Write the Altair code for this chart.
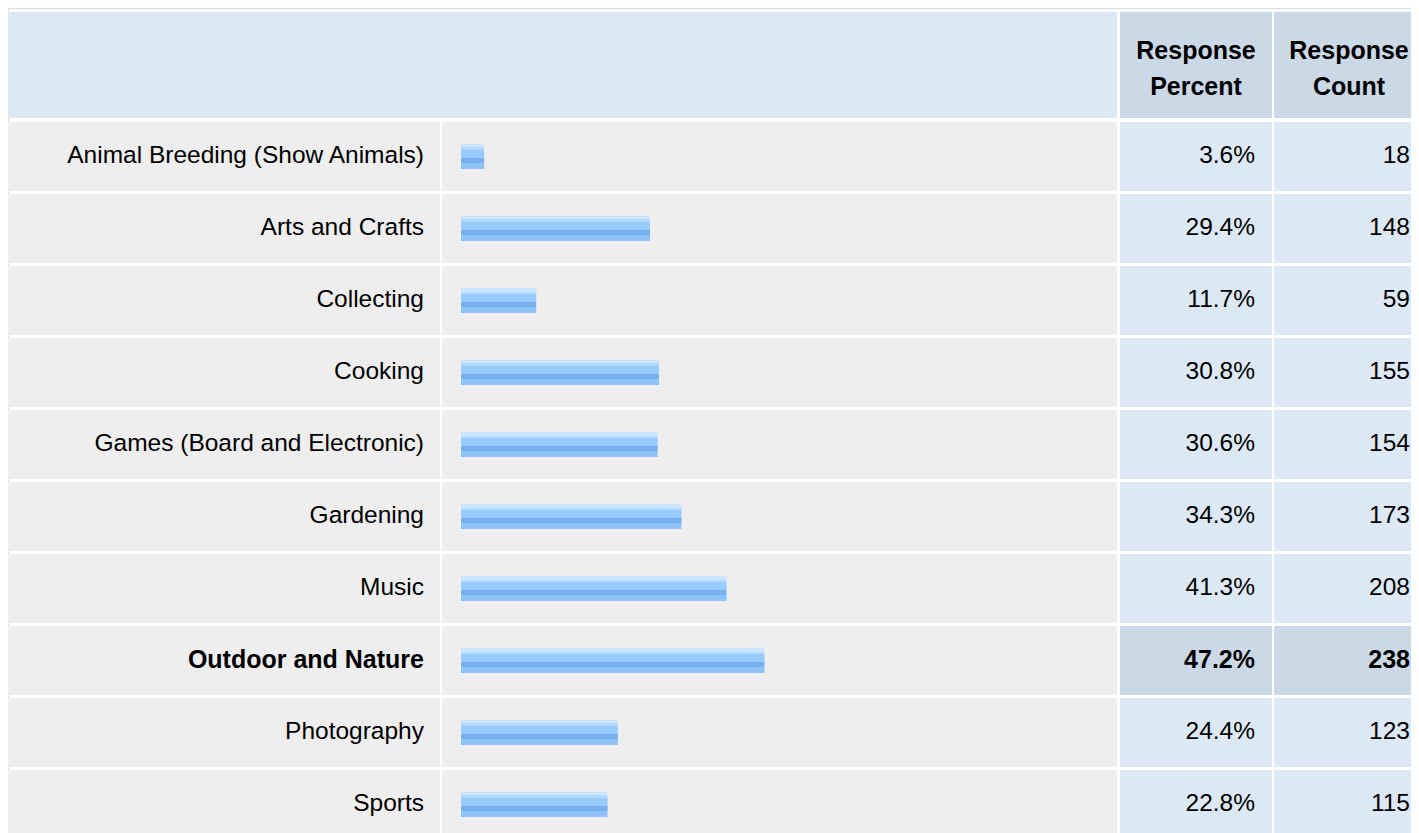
import altair as alt
import pandas as pd

# ---- data ----
categories = [
    "Animal Breeding (Show Animals)",
    "Arts and Crafts",
    "Collecting",
    "Cooking",
    "Games (Board and Electronic)",
    "Gardening",
    "Music",
    "Outdoor and Nature",
    "Photography",
    "Sports",
]
percents = [3.6, 29.4, 11.7, 30.8, 30.6, 34.3, 41.3, 47.2, 24.4, 22.8]
counts = [18, 148, 59, 155, 154, 173, 208, 238, 123, 115]
header_percent = ["Response", "Percent"]
header_count = ["Response", "Count"]

df = pd.DataFrame({"category": categories, "percent": percents, "count": counts})
df["pct_label"] = [f"{p:.1f}%" for p in percents]
df["count_label"] = [str(c) for c in counts]
df["top"] = df["percent"] == df["percent"].max()
deco = pd.DataFrame({"k": [0]})

# ---- layout ----
W, H = 1403, 825
FONT = "Liberation Sans"
FS_N, FS_B = 24.5, 25
ROW0, STEP, GAP = 114, 72, 3
COL_LABEL = (0, 432)
COL_BAR = (434, 1109)
COL_PCT = (1112, 1264)
COL_CNT = (1266, W)
BAR_X0, BAR_PX_PER_100 = 453, 643

CELL_GREY = "#eeeeee"
CELL_BLUE = "#dde8f5"
CELL_DARK = "#cbd8e6"

ysc = alt.Scale(domain=categories, range=[ROW0, ROW0 + STEP * len(categories) - GAP],
                paddingInner=GAP / STEP, paddingOuter=0)
yenc = alt.Y("category:N", sort=categories, scale=ysc, axis=None)

base = alt.Chart(df)
deco_c = alt.Chart(deco)

layers = []

# top strip
layers.append(deco_c.mark_rect(color="#dcdcdc").encode(
    x=alt.value(0), x2=alt.value(W), y=alt.value(0), y2=alt.value(1)))

# header cells
for (x0, x1), col in [((0, COL_BAR[1]), CELL_BLUE), (COL_PCT, CELL_DARK), (COL_CNT, CELL_DARK)]:
    layers.append(deco_c.mark_rect(color=col).encode(
        x=alt.value(x0), x2=alt.value(x1), y=alt.value(4), y2=alt.value(110)))

# header texts
for words, cx in [(header_percent, 1188), (header_count, 1341)]:
    for word, yy in zip(words, [43, 79]):
        layers.append(deco_c.mark_text(
            font=FONT, fontSize=FS_B, fontWeight="bold",
            align="center", baseline="middle", color="#000000"
        ).encode(x=alt.value(cx), y=alt.value(yy), text=alt.value(word)))

# row cells
for (x0, x1) in [COL_LABEL, COL_BAR]:
    layers.append(base.mark_rect(color=CELL_GREY).encode(
        y=yenc, x=alt.value(x0), x2=alt.value(x1)))
for (x0, x1) in [COL_PCT, COL_CNT]:
    layers.append(base.mark_rect().encode(
        y=yenc, x=alt.value(x0), x2=alt.value(x1),
        color=alt.condition("datum.top", alt.value(CELL_DARK), alt.value(CELL_BLUE))))

# bars
grad = alt.Gradient(
    gradient="linear", x1=0, y1=0, x2=0, y2=1,
    stops=[
        alt.GradientStop(offset=0.0, color="#cde6fd"),
        alt.GradientStop(offset=0.14, color="#cde6fd"),
        alt.GradientStop(offset=0.14, color="#b3d9fd"),
        alt.GradientStop(offset=0.25, color="#b3d9fd"),
        alt.GradientStop(offset=0.25, color="#99ccfe"),
        alt.GradientStop(offset=0.57, color="#99ccfe"),
        alt.GradientStop(offset=0.57, color="#78b1f1"),
        alt.GradientStop(offset=0.76, color="#78b1f1"),
        alt.GradientStop(offset=0.76, color="#8fc3f8"),
        alt.GradientStop(offset=1.0, color="#8fc3f8"),
    ],
)
layers.append(base.mark_bar(size=25, color=grad).encode(
    y=yenc,
    x=alt.X("percent:Q", axis=None,
            scale=alt.Scale(domain=[0, 100], range=[BAR_X0, BAR_X0 + BAR_PX_PER_100]))))

# row texts
for weight, fs, flt in [("normal", FS_N, "!datum.top"), ("bold", FS_B, "datum.top")]:
    sub = base.transform_filter(flt)
    for field, xx in [("category:N", 416), ("pct_label:N", 1247), ("count_label:N", 1402)]:
        layers.append(sub.mark_text(font=FONT, fontSize=fs, fontWeight=weight,
                                    align="right", baseline="middle", color="#000000",
                                    dy=-1)
                      .encode(y=yenc, x=alt.value(xx), text=field))

chart = alt.layer(*layers).properties(
    width=W, height=H, autosize="none", padding=0
).configure_view(stroke=None).configure(background="white")

chart.save("out.html", embed_options={"renderer": "svg", "actions": False})
